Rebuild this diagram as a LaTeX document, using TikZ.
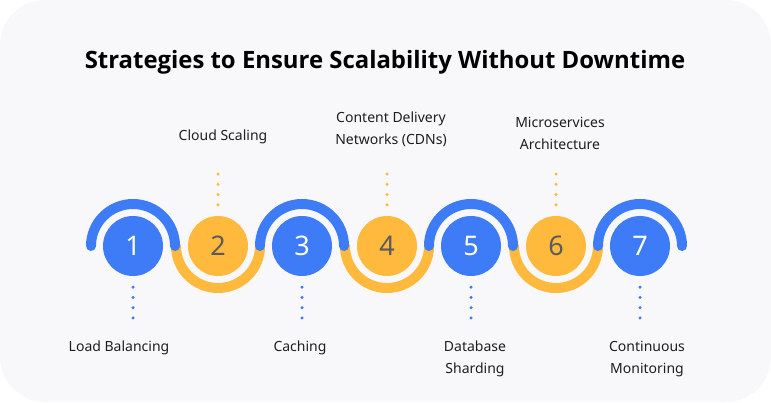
\documentclass[tikz,border=0pt]{standalone}
\usepackage{fontspec}
\setmainfont{Noto Sans}
\newfontfamily\titlefont{Open Sans}
\usepackage{xcolor}
\usetikzlibrary{positioning,calc}

\definecolor{stepblue}{HTML}{3D7CF6}
\definecolor{stepyellow}{HTML}{FFB93C}
\definecolor{panelgray}{HTML}{F8F8FB}
\definecolor{numgray}{HTML}{5B5B5B}
\definecolor{textblack}{HTML}{1E1E1E}

\begin{document}
\begin{tikzpicture}[x=1pt, y=1pt,
  num/.style={circle, minimum size=60pt, inner sep=0pt, font=\fontsize{27}{27}\selectfont},
  bluenum/.style={num, fill=stepblue, text=white},
  yellownum/.style={num, fill=stepyellow, text=numgray},
  ring/.style={line width=10pt, line cap=round},
  dotline/.style={line width=3.4pt, line cap=round, dash pattern=on 0pt off 10.25pt},
  steplabel/.style={text=textblack, font=\fontsize{14}{22}\selectfont, align=center}
]
% panel
\useasboundingbox (0,0) rectangle (771,402);
\fill[white] (0,0) rectangle (771,402);
\fill[panelgray, rounded corners=45pt] (0,0) rectangle (771,402);

\node[font=\titlefont\bfseries\fontsize{23.9}{28}\selectfont] (title) at (385,340) {Strategies to Ensure Scalability Without Downtime};

% steps
\node[bluenum]   (n1) at (133,156) {1};
\node[yellownum] (n2) at (218,156) {2};
\node[bluenum]   (n3) at (302,156) {3};
\node[yellownum] (n4) at (387,156) {4};
\node[bluenum]   (n5) at (471,156) {5};
\node[yellownum] (n6) at (556,156) {6};
\node[bluenum]   (n7) at (640,156) {7};

% half rings
\foreach \n in {n2,n4,n6}
  \draw[ring, stepyellow] ($(\n)+(-42,0)$) arc[start angle=180, end angle=360, radius=42];
\foreach \n in {n1,n3,n5,n7}
  \draw[ring, stepblue] ($(\n)+(-42,0)$) arc[start angle=180, end angle=0, radius=42];

% dotted leaders
\foreach \n in {n1,n3,n5,n7}
  \draw[dotline, stepblue] ($(\n.south)+(0,-11)$) -- ++(0,-41);
\foreach \n in {n2,n4,n6}
  \draw[dotline, stepyellow] ($(\n.north)+(0,11)$) -- ++(0,41);

% labels
\node[steplabel] (l1) at (119,54) {Load Balancing};
\node[steplabel] (l2) at (223,265) {Cloud Scaling};
\node[steplabel] (l3) at (300,54) {Caching};
\node[steplabel] (l4) at (391,273) {Content Delivery\\Networks (CDNs)};
\node[steplabel] (l5) at (475,43) {Database\\Sharding};
\node[steplabel] (l6) at (560,269) {Microservices\\Architecture};
\node[steplabel] (l7) at (647,43) {Continuous\\Monitoring};
\end{tikzpicture}
\end{document}
